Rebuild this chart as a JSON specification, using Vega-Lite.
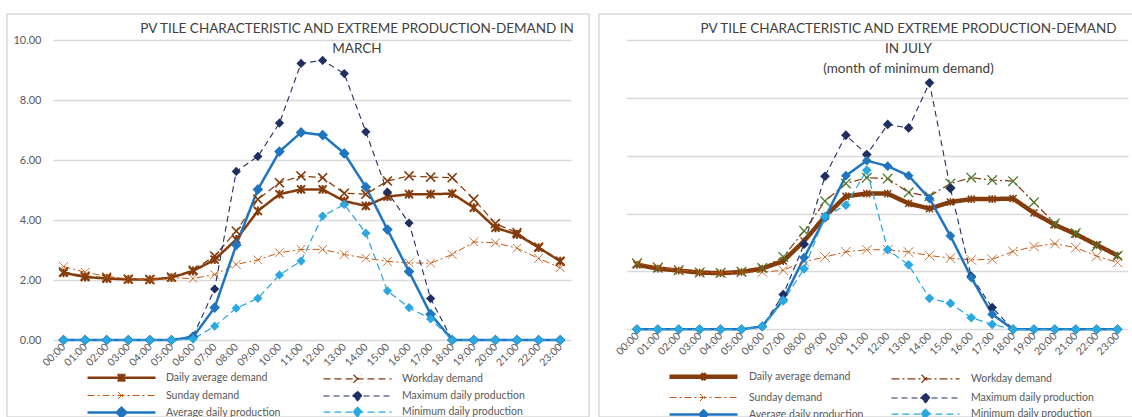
{
  "$schema": "https://vega.github.io/schema/vega-lite/v6.json",
  "padding": {"left": 6, "top": 13, "right": 0, "bottom": 0},
  "background": "white",
  "spacing": 8,
  "resolve": {
    "scale": {"stroke": "independent", "strokeDash": "independent", "strokeWidth": "independent", "shape": "independent", "fill": "independent"},
    "legend": {"stroke": "independent", "strokeDash": "independent", "strokeWidth": "independent", "shape": "independent", "fill": "independent"}
  },
  "config": {
    "font": "Lato",
    "view": {"stroke": "#d9d9d9", "strokeWidth": 1.5},
    "axis": {"labelFont": "Lato", "labelColor": "#595959", "gridColor": "#d9d9d9", "gridWidth": 1.5, "domain": false, "ticks": false, "tickSize": 0, "title": null},
    "title": {"font": "Lato", "fontSize": 13.5, "fontWeight": "normal", "color": "#404040", "lineHeight": 20, "anchor": "middle", "frame": "group"},
    "legend": {"labelFont": "Lato", "labelFontSize": 10.5, "labelColor": "#595959", "title": null, "padding": 0, "offset": 0}
  },
  "datasets": {
    "march": [
      {"hour": "00:00", "avg": 2.24, "work": 2.27, "sun": 2.45, "maxp": 0, "avgp": 0, "minp": 0},
      {"hour": "01:00", "avg": 2.10, "work": 2.13, "sun": 2.26, "maxp": 0, "avgp": 0, "minp": 0},
      {"hour": "02:00", "avg": 2.05, "work": 2.07, "sun": 2.12, "maxp": 0, "avgp": 0, "minp": 0},
      {"hour": "03:00", "avg": 2.02, "work": 2.03, "sun": 2.04, "maxp": 0, "avgp": 0, "minp": 0},
      {"hour": "04:00", "avg": 2.01, "work": 2.02, "sun": 2.00, "maxp": 0, "avgp": 0, "minp": 0},
      {"hour": "05:00", "avg": 2.08, "work": 2.10, "sun": 2.07, "maxp": 0, "avgp": 0, "minp": 0},
      {"hour": "06:00", "avg": 2.30, "work": 2.33, "sun": 2.05, "maxp": 0.13, "avgp": 0.10, "minp": 0.03},
      {"hour": "07:00", "avg": 2.68, "work": 2.80, "sun": 2.18, "maxp": 1.70, "avgp": 1.08, "minp": 0.46},
      {"hour": "08:00", "avg": 3.35, "work": 3.63, "sun": 2.52, "maxp": 5.62, "avgp": 3.17, "minp": 1.06},
      {"hour": "09:00", "avg": 4.30, "work": 4.69, "sun": 2.67, "maxp": 6.12, "avgp": 5.02, "minp": 1.39},
      {"hour": "10:00", "avg": 4.86, "work": 5.24, "sun": 2.91, "maxp": 7.23, "avgp": 6.28, "minp": 2.17},
      {"hour": "11:00", "avg": 5.02, "work": 5.47, "sun": 3.02, "maxp": 9.22, "avgp": 6.92, "minp": 2.63},
      {"hour": "12:00", "avg": 5.02, "work": 5.41, "sun": 3.02, "maxp": 9.32, "avgp": 6.83, "minp": 4.13},
      {"hour": "13:00", "avg": 4.63, "work": 4.89, "sun": 2.85, "maxp": 8.88, "avgp": 6.22, "minp": 4.52},
      {"hour": "14:00", "avg": 4.47, "work": 4.86, "sun": 2.73, "maxp": 6.94, "avgp": 5.10, "minp": 3.56},
      {"hour": "15:00", "avg": 4.78, "work": 5.30, "sun": 2.62, "maxp": 4.93, "avgp": 3.68, "minp": 1.64},
      {"hour": "16:00", "avg": 4.86, "work": 5.47, "sun": 2.57, "maxp": 3.90, "avgp": 2.28, "minp": 1.08},
      {"hour": "17:00", "avg": 4.86, "work": 5.43, "sun": 2.56, "maxp": 1.38, "avgp": 0.86, "minp": 0.70},
      {"hour": "18:00", "avg": 4.88, "work": 5.41, "sun": 2.85, "maxp": 0, "avgp": 0, "minp": 0},
      {"hour": "19:00", "avg": 4.41, "work": 4.69, "sun": 3.27, "maxp": 0, "avgp": 0, "minp": 0},
      {"hour": "20:00", "avg": 3.74, "work": 3.88, "sun": 3.24, "maxp": 0, "avgp": 0, "minp": 0},
      {"hour": "21:00", "avg": 3.52, "work": 3.58, "sun": 3.06, "maxp": 0, "avgp": 0, "minp": 0},
      {"hour": "22:00", "avg": 3.08, "work": 3.10, "sun": 2.72, "maxp": 0, "avgp": 0, "minp": 0},
      {"hour": "23:00", "avg": 2.63, "work": 2.62, "sun": 2.41, "maxp": 0, "avgp": 0, "minp": 0}
    ],
    "july": [
      {"hour": "00:00", "avg": 2.23, "work": 2.27, "sun": 2.30, "maxp": 0, "avgp": 0, "minp": 0},
      {"hour": "01:00", "avg": 2.10, "work": 2.13, "sun": 2.15, "maxp": 0, "avgp": 0, "minp": 0},
      {"hour": "02:00", "avg": 2.03, "work": 2.04, "sun": 2.05, "maxp": 0, "avgp": 0, "minp": 0},
      {"hour": "03:00", "avg": 1.96, "work": 1.96, "sun": 1.97, "maxp": 0, "avgp": 0, "minp": 0},
      {"hour": "04:00", "avg": 1.94, "work": 1.95, "sun": 1.95, "maxp": 0, "avgp": 0, "minp": 0},
      {"hour": "05:00", "avg": 1.98, "work": 1.99, "sun": 1.98, "maxp": 0, "avgp": 0, "minp": 0},
      {"hour": "06:00", "avg": 2.10, "work": 2.12, "sun": 1.98, "maxp": 0.10, "avgp": 0.10, "minp": 0.10},
      {"hour": "07:00", "avg": 2.36, "work": 2.50, "sun": 2.04, "maxp": 1.20, "avgp": 1.02, "minp": 0.98},
      {"hour": "08:00", "avg": 3.05, "work": 3.40, "sun": 2.34, "maxp": 2.94, "avgp": 2.48, "minp": 2.09},
      {"hour": "09:00", "avg": 3.90, "work": 4.43, "sun": 2.50, "maxp": 5.29, "avgp": 3.85, "minp": 3.90},
      {"hour": "10:00", "avg": 4.60, "work": 5.04, "sun": 2.68, "maxp": 6.71, "avgp": 5.31, "minp": 4.29},
      {"hour": "11:00", "avg": 4.69, "work": 5.24, "sun": 2.75, "maxp": 6.04, "avgp": 5.83, "minp": 5.50},
      {"hour": "12:00", "avg": 4.69, "work": 5.21, "sun": 2.75, "maxp": 7.08, "avgp": 5.64, "minp": 2.75},
      {"hour": "13:00", "avg": 4.35, "work": 4.73, "sun": 2.67, "maxp": 6.96, "avgp": 5.31, "minp": 2.23},
      {"hour": "14:00", "avg": 4.17, "work": 4.60, "sun": 2.55, "maxp": 8.52, "avgp": 4.52, "minp": 1.07},
      {"hour": "15:00", "avg": 4.40, "work": 5.04, "sun": 2.46, "maxp": 4.87, "avgp": 3.23, "minp": 0.90},
      {"hour": "16:00", "avg": 4.50, "work": 5.24, "sun": 2.40, "maxp": 1.83, "avgp": 1.79, "minp": 0.40},
      {"hour": "17:00", "avg": 4.50, "work": 5.16, "sun": 2.42, "maxp": 0.75, "avgp": 0.52, "minp": 0.17},
      {"hour": "18:00", "avg": 4.52, "work": 5.12, "sun": 2.69, "maxp": 0, "avgp": 0, "minp": 0},
      {"hour": "19:00", "avg": 4.02, "work": 4.39, "sun": 2.86, "maxp": 0, "avgp": 0, "minp": 0},
      {"hour": "20:00", "avg": 3.61, "work": 3.66, "sun": 2.96, "maxp": 0, "avgp": 0, "minp": 0},
      {"hour": "21:00", "avg": 3.29, "work": 3.33, "sun": 2.82, "maxp": 0, "avgp": 0, "minp": 0},
      {"hour": "22:00", "avg": 2.92, "work": 2.88, "sun": 2.53, "maxp": 0, "avgp": 0, "minp": 0},
      {"hour": "23:00", "avg": 2.55, "work": 2.54, "sun": 2.31, "maxp": 0, "avgp": 0, "minp": 0}
    ]
  },
  "hconcat": [
    {
      "width": 582,
      "height": 403,
      "data": {"name": "march"},
      "transform": [{"fold": ["avg", "work", "sun", "maxp", "avgp", "minp"], "as": ["series", "value"]}],
      "title": {"text": ["PV TILE CHARACTERISTIC AND EXTREME PRODUCTION-DEMAND IN", "MARCH"], "dx": 59, "offset": -41},
      "encoding": {
        "x": {"field": "hour", "type": "ordinal", "sort": null,
              "scale": {"type": "point", "padding": 0.5, "range": [45.7, 564]},
              "axis": {"orient": "bottom", "offset": -77, "labelAngle": -45, "labelAlign": "right", "labelBaseline": "middle", "labelPadding": 5, "labelFontSize": 10.5, "grid": false}},
        "y": {"field": "value", "type": "quantitative",
              "scale": {"domain": [0, 10], "range": [326, 26], "nice": false, "zero": false},
              "axis": {"values": [0, 2, 4, 6, 8, 10], "format": ".2f", "offset": -38, "labelPadding": 4, "labelFontSize": 11, "grid": true}},
        "stroke": {"field": "series", "type": "nominal",
                   "scale": {"domain": ["avg", "work", "sun", "maxp", "avgp", "minp"], "range": ["#843c0c", "#843c0c", "#c55a11", "#1f2f5f", "#1f75bf", "#2aa8e0"]},
                   "legend": {"orient": "none", "legendX": 105, "legendY": 354, "direction": "horizontal", "columns": 2, "columnPadding": 40, "rowPadding": -1, "symbolSize": 256, "labelOffset": 35,
                              "labelExpr": "datum.value == 'avg' ? 'Daily average demand' : datum.value == 'work' ? 'Workday demand' : datum.value == 'sun' ? 'Sunday demand' : datum.value == 'maxp' ? 'Maximum daily production' : datum.value == 'avgp' ? 'Average daily production' : 'Minimum daily production'"}},
        "strokeDash": {"field": "series", "type": "nominal",
                   "scale": {"domain": ["avg", "work", "sun", "maxp", "avgp", "minp"], "range": [[1, 0], [7, 4], [7, 3, 2, 3], [6, 4], [1, 0], [7, 4]]},
                   "legend": {"orient": "none", "legendX": 105, "legendY": 354, "direction": "horizontal", "columns": 2, "columnPadding": 40, "rowPadding": -1, "symbolSize": 256, "labelOffset": 35,
                              "labelExpr": "datum.value == 'avg' ? 'Daily average demand' : datum.value == 'work' ? 'Workday demand' : datum.value == 'sun' ? 'Sunday demand' : datum.value == 'maxp' ? 'Maximum daily production' : datum.value == 'avgp' ? 'Average daily production' : 'Minimum daily production'"}},
        "strokeWidth": {"field": "series", "type": "nominal",
                   "scale": {"type": "ordinal", "domain": ["avg", "work", "sun", "maxp", "avgp", "minp"], "range": [2.5, 1.25, 1, 1.1, 2.5, 1.25]},
                   "legend": {"orient": "none", "legendX": 105, "legendY": 354, "direction": "horizontal", "columns": 2, "columnPadding": 40, "rowPadding": -1, "symbolSize": 256, "labelOffset": 35,
                              "labelExpr": "datum.value == 'avg' ? 'Daily average demand' : datum.value == 'work' ? 'Workday demand' : datum.value == 'sun' ? 'Sunday demand' : datum.value == 'maxp' ? 'Maximum daily production' : datum.value == 'avgp' ? 'Average daily production' : 'Minimum daily production'"}}
      },
      "layer": [
        {
          "mark": {"type": "line", "strokeJoin": "round"}
        },
        {
          "transform": [{"filter": "false"}],
          "mark": {"type": "point", "filled": true, "opacity": 1},
          "encoding": {
            "shape": {"field": "series", "type": "nominal",
                      "scale": {"domain": ["avg", "work", "sun", "maxp", "avgp", "minp"],
                                "range": ["M-4.25,0H4.25M-0.45,-0.45L0.45,0.45M-0.45,0.45L0.45,-0.45M0,-0.5V0.5", "M-4.25,0H4.25M-0.5,-0.5L0.5,0.5M-0.5,0.5L0.5,-0.5", "M-4.25,0H4.25M-0.45,-0.45L0.45,0.45M-0.45,0.45L0.45,-0.45", "M-4.25,0H4.25M0,-0.6L0.6,0L0,0.6L-0.6,0Z", "M-4.25,0H4.25M0,-0.6L0.6,0L0,0.6L-0.6,0Z", "M-4.25,0H4.25M0,-0.6L0.6,0L0,0.6L-0.6,0Z"]},
                      "legend": {"orient": "none", "legendX": 105, "legendY": 354, "direction": "horizontal", "columns": 2, "columnPadding": 40, "rowPadding": -1, "symbolSize": 256, "labelOffset": 35,
                                 "labelExpr": "datum.value == 'avg' ? 'Daily average demand' : datum.value == 'work' ? 'Workday demand' : datum.value == 'sun' ? 'Sunday demand' : datum.value == 'maxp' ? 'Maximum daily production' : datum.value == 'avgp' ? 'Average daily production' : 'Minimum daily production'"}},
            "fill": {"field": "series", "type": "nominal",
                     "scale": {"domain": ["avg", "work", "sun", "maxp", "avgp", "minp"], "range": ["#843c0c", "#843c0c", "#c55a11", "#1f2f5f", "#1f75bf", "#2aa8e0"]},
                     "legend": {"orient": "none", "legendX": 105, "legendY": 354, "direction": "horizontal", "columns": 2, "columnPadding": 40, "rowPadding": -1, "symbolSize": 256, "labelOffset": 35,
                                 "labelExpr": "datum.value == 'avg' ? 'Daily average demand' : datum.value == 'work' ? 'Workday demand' : datum.value == 'sun' ? 'Sunday demand' : datum.value == 'maxp' ? 'Maximum daily production' : datum.value == 'avgp' ? 'Average daily production' : 'Minimum daily production'"}}
          }
        },
        {
          "transform": [{"filter": {"field": "series", "equal": "avg"}}],
          "mark": {"type": "point", "shape": "M-1,-1L1,1M-1,1L1,-1M0,-1.1V1.1", "filled": false, "size": 64, "opacity": 1},
          "encoding": {"stroke": {"value": "#843c0c"}, "strokeDash": {"value": [1, 0]}, "strokeWidth": {"value": 2}}
        },
        {
          "transform": [{"filter": {"field": "series", "equal": "work"}}],
          "mark": {"type": "point", "shape": "M-1,-1L1,1M-1,1L1,-1", "filled": false, "size": 81, "opacity": 1},
          "encoding": {"stroke": {"value": "#843c0c"}, "strokeDash": {"value": [1, 0]}, "strokeWidth": {"value": 1.6}}
        },
        {
          "transform": [{"filter": {"field": "series", "equal": "sun"}}],
          "mark": {"type": "point", "shape": "M-1,-1L1,1M-1,1L1,-1", "filled": false, "size": 72, "opacity": 1},
          "encoding": {"stroke": {"value": "#c55a11"}, "strokeDash": {"value": [1, 0]}, "strokeWidth": {"value": 1}}
        },
        {
          "transform": [{"filter": {"field": "series", "equal": "maxp"}}],
          "mark": {"type": "point", "shape": "diamond", "filled": true, "size": 85, "opacity": 1, "fill": "#1f2f5f"},
          "encoding": {"stroke": {"value": null}, "strokeDash": {"value": [1, 0]}, "strokeWidth": {"value": 0}}
        },
        {
          "transform": [{"filter": {"field": "series", "equal": "avgp"}}],
          "mark": {"type": "point", "shape": "diamond", "filled": true, "size": 115, "opacity": 1, "fill": "#1f75bf"},
          "encoding": {"stroke": {"value": null}, "strokeDash": {"value": [1, 0]}, "strokeWidth": {"value": 0}}
        },
        {
          "transform": [{"filter": {"field": "series", "equal": "minp"}}],
          "mark": {"type": "point", "shape": "diamond", "filled": true, "size": 85, "opacity": 1, "fill": "#2aa8e0"},
          "encoding": {"stroke": {"value": null}, "strokeDash": {"value": [1, 0]}, "strokeWidth": {"value": 0}}
        }
      ]
    },
    {
      "width": 535,
      "height": 403,
      "data": {"name": "july"},
      "transform": [{"fold": ["avg", "work", "sun", "maxp", "avgp", "minp"], "as": ["series", "value"]}],
      "title": {"text": ["PV TILE CHARACTERISTIC AND EXTREME PRODUCTION-DEMAND", "IN JULY", "(month of minimum demand)"], "dx": 42, "offset": -61},
      "encoding": {
        "x": {"field": "hour", "type": "ordinal", "sort": null,
              "scale": {"type": "point", "padding": 0.5, "range": [27.5, 529]},
              "axis": {"orient": "bottom", "offset": -88, "labelAngle": -45, "labelAlign": "right", "labelBaseline": "middle", "labelPadding": 5, "labelFontSize": 10.5, "grid": false}},
        "y": {"field": "value", "type": "quantitative",
              "scale": {"domain": [0, 10], "range": [315.3, 26], "nice": false, "zero": false},
              "axis": {"values": [0, 2, 4, 6, 8, 10], "labels": false, "grid": true}},
        "stroke": {"field": "series", "type": "nominal",
                   "scale": {"domain": ["avg", "work", "sun", "maxp", "avgp", "minp"], "range": ["#843c0c", "#8b3a14", "#c55a11", "#1f2f5f", "#1f75bf", "#2aa8e0"]},
                   "legend": {"orient": "none", "legendX": 94, "legendY": 352, "direction": "horizontal", "columns": 2, "columnPadding": 25, "rowPadding": -1, "symbolSize": 256, "labelOffset": 35,
                              "labelExpr": "datum.value == 'avg' ? 'Daily average demand' : datum.value == 'work' ? 'Workday demand' : datum.value == 'sun' ? 'Sunday demand' : datum.value == 'maxp' ? 'Maximum daily production' : datum.value == 'avgp' ? 'Average daily production' : 'Minimum daily production'"}},
        "strokeDash": {"field": "series", "type": "nominal",
                   "scale": {"domain": ["avg", "work", "sun", "maxp", "avgp", "minp"], "range": [[1, 0], [8, 3, 2, 3], [7, 3, 2, 3], [6, 4], [1, 0], [7, 4]]},
                   "legend": {"orient": "none", "legendX": 94, "legendY": 352, "direction": "horizontal", "columns": 2, "columnPadding": 25, "rowPadding": -1, "symbolSize": 256, "labelOffset": 35,
                              "labelExpr": "datum.value == 'avg' ? 'Daily average demand' : datum.value == 'work' ? 'Workday demand' : datum.value == 'sun' ? 'Sunday demand' : datum.value == 'maxp' ? 'Maximum daily production' : datum.value == 'avgp' ? 'Average daily production' : 'Minimum daily production'"}},
        "strokeWidth": {"field": "series", "type": "nominal",
                   "scale": {"type": "ordinal", "domain": ["avg", "work", "sun", "maxp", "avgp", "minp"], "range": [4.5, 1.25, 1, 1.1, 2.5, 1.25]},
                   "legend": {"orient": "none", "legendX": 94, "legendY": 352, "direction": "horizontal", "columns": 2, "columnPadding": 25, "rowPadding": -1, "symbolSize": 256, "labelOffset": 35,
                              "labelExpr": "datum.value == 'avg' ? 'Daily average demand' : datum.value == 'work' ? 'Workday demand' : datum.value == 'sun' ? 'Sunday demand' : datum.value == 'maxp' ? 'Maximum daily production' : datum.value == 'avgp' ? 'Average daily production' : 'Minimum daily production'"}}
      },
      "layer": [
        {
          "mark": {"type": "line", "strokeJoin": "round"}
        },
        {
          "transform": [{"filter": "false"}],
          "mark": {"type": "point", "filled": true, "opacity": 1},
          "encoding": {
            "shape": {"field": "series", "type": "nominal",
                      "scale": {"domain": ["avg", "work", "sun", "maxp", "avgp", "minp"],
                                "range": ["M-4.25,0H4.25M-0.35,-0.35L0.35,0.35M-0.35,0.35L0.35,-0.35M0,-0.4V0.4", "M-4.25,0H4.25M-0.5,-0.5L0.5,0.5M-0.5,0.5L0.5,-0.5", "M-4.25,0H4.25M-0.45,-0.45L0.45,0.45M-0.45,0.45L0.45,-0.45", "M-4.25,0H4.25M0,-0.6L0.6,0L0,0.6L-0.6,0Z", "M-4.25,0H4.25M0,-0.5L0.5,0L0,0.5L-0.5,0Z", "M-4.25,0H4.25M0,-0.6L0.6,0L0,0.6L-0.6,0Z"]},
                      "legend": {"orient": "none", "legendX": 94, "legendY": 352, "direction": "horizontal", "columns": 2, "columnPadding": 25, "rowPadding": -1, "symbolSize": 256, "labelOffset": 35,
                                 "labelExpr": "datum.value == 'avg' ? 'Daily average demand' : datum.value == 'work' ? 'Workday demand' : datum.value == 'sun' ? 'Sunday demand' : datum.value == 'maxp' ? 'Maximum daily production' : datum.value == 'avgp' ? 'Average daily production' : 'Minimum daily production'"}},
            "fill": {"field": "series", "type": "nominal",
                     "scale": {"domain": ["avg", "work", "sun", "maxp", "avgp", "minp"], "range": ["#843c0c", "#4a7a2c", "#c55a11", "#1f2f5f", "#1f75bf", "#2aa8e0"]},
                     "legend": {"orient": "none", "legendX": 94, "legendY": 352, "direction": "horizontal", "columns": 2, "columnPadding": 25, "rowPadding": -1, "symbolSize": 256, "labelOffset": 35,
                                 "labelExpr": "datum.value == 'avg' ? 'Daily average demand' : datum.value == 'work' ? 'Workday demand' : datum.value == 'sun' ? 'Sunday demand' : datum.value == 'maxp' ? 'Maximum daily production' : datum.value == 'avgp' ? 'Average daily production' : 'Minimum daily production'"}}
          }
        },
        {
          "transform": [{"filter": {"field": "series", "equal": "avg"}}],
          "mark": {"type": "point", "shape": "M-1,-1L1,1M-1,1L1,-1M0,-1.1V1.1", "filled": false, "size": 49, "opacity": 1},
          "encoding": {"stroke": {"value": "#843c0c"}, "strokeDash": {"value": [1, 0]}, "strokeWidth": {"value": 1.5}}
        },
        {
          "transform": [{"filter": {"field": "series", "equal": "work"}}],
          "mark": {"type": "point", "shape": "M-1,-1L1,1M-1,1L1,-1", "filled": false, "size": 90, "opacity": 1},
          "encoding": {"stroke": {"value": "#4a7a2c"}, "strokeDash": {"value": [1, 0]}, "strokeWidth": {"value": 1.3}}
        },
        {
          "transform": [{"filter": {"field": "series", "equal": "sun"}}],
          "mark": {"type": "point", "shape": "M-1,-1L1,1M-1,1L1,-1", "filled": false, "size": 90, "opacity": 1},
          "encoding": {"stroke": {"value": "#c55a11"}, "strokeDash": {"value": [1, 0]}, "strokeWidth": {"value": 1}}
        },
        {
          "transform": [{"filter": {"field": "series", "equal": "maxp"}}],
          "mark": {"type": "point", "shape": "diamond", "filled": true, "size": 95, "opacity": 1, "fill": "#1f2f5f"},
          "encoding": {"stroke": {"value": null}, "strokeDash": {"value": [1, 0]}, "strokeWidth": {"value": 0}}
        },
        {
          "transform": [{"filter": {"field": "series", "equal": "avgp"}}],
          "mark": {"type": "point", "shape": "diamond", "filled": true, "size": 95, "opacity": 1, "fill": "#1f75bf"},
          "encoding": {"stroke": {"value": null}, "strokeDash": {"value": [1, 0]}, "strokeWidth": {"value": 0}}
        },
        {
          "transform": [{"filter": {"field": "series", "equal": "minp"}}],
          "mark": {"type": "point", "shape": "diamond", "filled": true, "size": 95, "opacity": 1, "fill": "#2aa8e0"},
          "encoding": {"stroke": {"value": null}, "strokeDash": {"value": [1, 0]}, "strokeWidth": {"value": 0}}
        }
      ]
    }
  ]
}
